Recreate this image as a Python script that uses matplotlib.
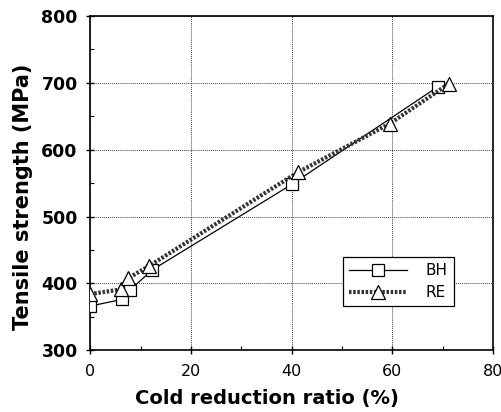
import matplotlib
matplotlib.use("Agg")
import matplotlib.pyplot as plt
from matplotlib.ticker import MultipleLocator

plt.rcParams['font.family'] = ['DejaVu Sans']

# cold reduction ratio (%) vs tensile strength (MPa)
bh_x = [0, 6.3, 7.9, 12.3, 40, 69]
bh_y = [366, 376, 390, 420, 548, 694]
re_x = [0, 6.1, 7.6, 11.7, 41.2, 59.5, 71.3]
re_y = [384, 391, 408, 426, 566, 639, 699]

fig = plt.figure(figsize=(5.01, 4.12), dpi=100)
ax = fig.add_axes([0.180, 0.150, 0.804, 0.811])

ax.plot(bh_x, bh_y, color='black', lw=0.9, marker='s', ms=9,
        mfc='white', mec='black', mew=0.9, label='BH', zorder=3)
ax.plot(re_x, re_y, color='#333333', lw=3, ls=(0, (0.6, 0.4)), marker='^', ms=10,
        mfc='white', mec='black', mew=0.9, label='RE', zorder=4)

ax.set_xlim(0, 80)
ax.set_ylim(300, 800)
ax.xaxis.set_major_locator(MultipleLocator(20))
ax.xaxis.set_minor_locator(MultipleLocator(10))
ax.yaxis.set_major_locator(MultipleLocator(100))
ax.yaxis.set_minor_locator(MultipleLocator(50))
ax.tick_params(which='major', direction='inout', length=6, width=1)
ax.tick_params(which='minor', direction='in', length=3, width=0.8)
ax.tick_params(axis='x', labelsize=11.5, pad=7)
ax.tick_params(axis='y', labelsize=12.5, pad=6)
for lab in ax.get_yticklabels():
    lab.set_fontweight('bold')

ax.grid(True, which='major', color='#444444', ls=(0, (1, 1)), lw=0.7)
for s in ax.spines.values():
    s.set_linewidth(1.2)

ax.set_xlabel('Cold reduction ratio (%)', fontsize=14, fontweight='bold', labelpad=7)
ax.xaxis.set_label_coords(0.44, -0.115)
ax.set_ylabel('Tensile strength (MPa)', fontsize=15, fontweight='bold')
ax.yaxis.set_label_coords(-0.142, 0.46)

leg = ax.legend(loc='lower right', bbox_to_anchor=(0.903, 0.132), borderaxespad=0,
                fontsize=11, frameon=True, fancybox=False, edgecolor='black',
                framealpha=1, handlelength=3.8, borderpad=0.4, labelspacing=0.45,
                handletextpad=1.2)
leg.get_frame().set_linewidth(0.9)

fig.savefig('out.png', dpi=100)
